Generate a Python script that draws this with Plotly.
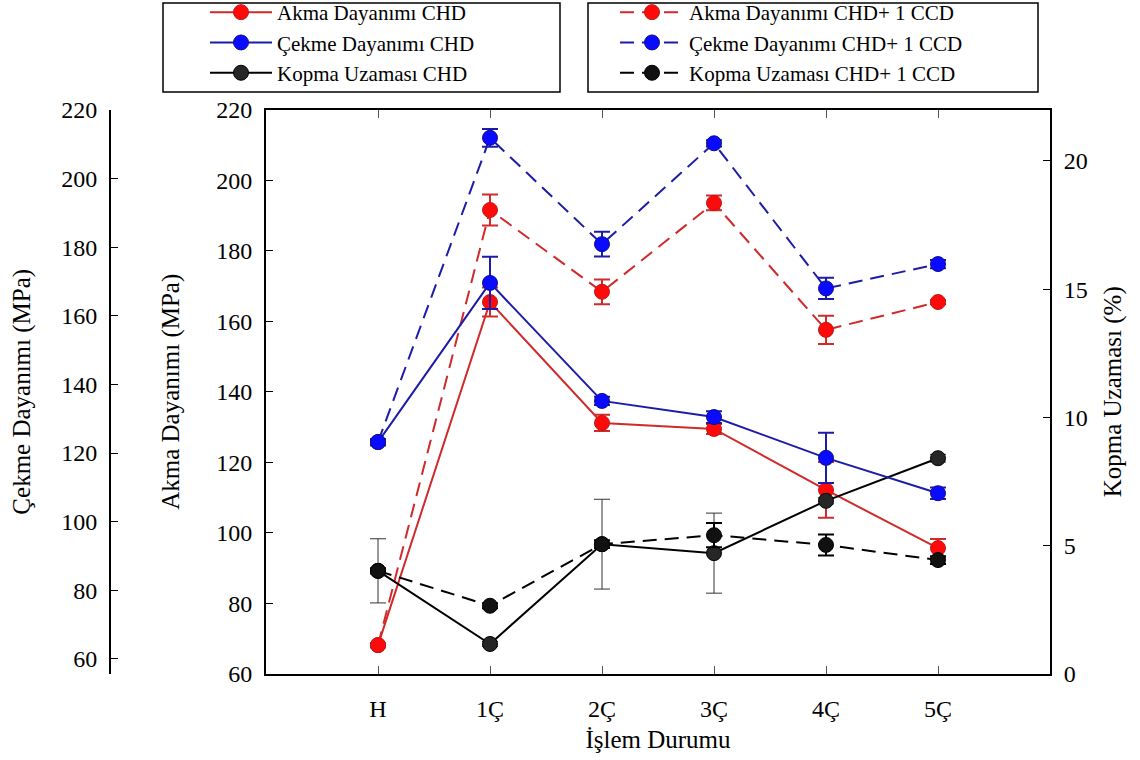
import plotly.graph_objects as go

categories = ['H', '1Ç', '2Ç', '3Ç', '4Ç', '5Ç']

# Akma Dayanımı (MPa) - middle left axis
akma_chd = [68.2, 165.5, 131.2, 129.5, 112.2, 95.7]
akma_chd_err = [0.6, 4.1, 2.3, 1.4, 7.9, 2.6]
akma_ccd = [68.2, 191.6, 168.4, 193.6, 157.6, 165.5]
akma_ccd_err = [0.6, 4.4, 3.5, 2.1, 4.0, 0.6]

# Çekme Dayanımı (MPa) - outer left axis
cekme_chd = [123.2, 169.6, 135.2, 130.5, 118.6, 108.3]
cekme_chd_err = [0.9, 7.6, 1.2, 1.7, 7.3, 1.7]
cekme_ccd = [123.2, 211.9, 180.9, 210.3, 168.0, 175.1]
cekme_ccd_err = [0.9, 2.6, 3.6, 0.9, 3.1, 1.2]

# Kopma Uzaması (%) - right axis
kopma_chd = [4.02, 1.17, 5.06, 4.71, 6.75, 8.41]
kopma_chd_err = [1.25, 0.1, 1.75, 1.56, 0.12, 0.15]
kopma_ccd = [4.02, 2.66, 5.06, 5.41, 5.03, 4.44]
kopma_ccd_err = [0.1, 0.1, 0.15, 0.47, 0.41, 0.15]

FONT = "Liberation Serif"
W, H = 1140, 760
ML, MR, MT, MB = 100, 60, 10, 60
PW, PH = W - ML - MR, H - MT - MB


def fx(px):
    return (px - ML) / PW


def fy(py):
    return (H - MB - py) / PH


L, R, T, B = 266, 1050, 109.5, 674

RED_LINE = "#d02a2a"
RED_MK = "#ff0a0a"
BLUE_LINE = "#1c1ca8"
BLUE_MK = "#0a0aff"
BLK_MK = "#262626"
DASH = "14px,8px"


def trace(name, y, err, yaxis, line_color, mk_color, mk_edge, err_color, err_th, dash, legend):
    return go.Scatter(
        x=categories, y=y, name=name, yaxis=yaxis, legend=legend,
        mode="lines+markers",
        line=dict(color=line_color, width=2, dash=dash),
        marker=dict(size=15, color=mk_color, line=dict(color=mk_edge, width=1)),
        error_y=dict(type="data", array=err, visible=True, color=err_color,
                     thickness=err_th, width=8),
    )


fig = go.Figure()
# CHD (solid)
fig.add_trace(trace("Akma Dayanımı CHD", akma_chd, akma_chd_err, "y",
                    RED_LINE, RED_MK, "#c01818", RED_LINE, 2, "solid", "legend"))
fig.add_trace(trace("Çekme Dayanımı CHD", cekme_chd, cekme_chd_err, "y3",
                    BLUE_LINE, BLUE_MK, "#10108a", BLUE_LINE, 2, "solid", "legend"))
fig.add_trace(trace("Kopma Uzaması CHD", kopma_chd, kopma_chd_err, "y2",
                    "#000000", BLK_MK, "#000000", "#333333", 1, "solid", "legend"))
# CHD + 1 CCD (dashed)
fig.add_trace(trace("Akma Dayanımı CHD+ 1 CCD", akma_ccd, akma_ccd_err, "y",
                    RED_LINE, RED_MK, "#c01818", RED_LINE, 2, DASH, "legend2"))
fig.add_trace(trace("Çekme Dayanımı CHD+ 1 CCD", cekme_ccd, cekme_ccd_err, "y3",
                    BLUE_LINE, BLUE_MK, "#10108a", BLUE_LINE, 2, DASH, "legend2"))
fig.add_trace(trace("Kopma Uzaması CHD+ 1 CCD", kopma_ccd, kopma_ccd_err, "y2",
                    "#000000", "#111111", "#000000", "#000000", 2, DASH, "legend2"))

tick_font = dict(family=FONT, size=24, color="#000000")
title_font = dict(family=FONT, size=25, color="#000000")
ydom = [fy(B), fy(T)]

yax_common = dict(
    showline=True, linecolor="#000", linewidth=2,
    ticks="inside", ticklen=7, tickwidth=1, tickcolor="#000",
    showgrid=False, zeroline=False, tickfont=tick_font,
    automargin=False, ticklabelstandoff=7,
)

fig.update_layout(
    width=W, height=H,
    margin=dict(l=ML, r=MR, t=MT, b=MB, autoexpand=False),
    paper_bgcolor="white", plot_bgcolor="white",
    font=dict(family=FONT, size=22, color="#000000"),
    xaxis=dict(
        domain=[fx(L), fx(R)], type="category", range=[-1, 6],
        showline=True, linecolor="#000", linewidth=2, mirror="ticks",
        ticks="inside", ticklen=8, tickwidth=1, tickcolor="#555",
        showgrid=False, zeroline=False, tickfont=tick_font,
        automargin=False, ticklabelstandoff=12,
        title=dict(text="İşlem Durumu", font=title_font, standoff=10),
    ),
    yaxis=dict(
        domain=ydom, range=[60, 220.1], dtick=20, tick0=60,
        title=dict(text="Akma Dayanımı (MPa)", font=title_font, standoff=29),
        **yax_common,
    ),
    yaxis3=dict(
        overlaying="y", side="left", anchor="free", position=fx(110),
        range=[55.6, 220.15], dtick=20, tick0=60,
        title=dict(text="Çekme Dayanımı (MPa)", font=title_font, standoff=22),
        **yax_common,
    ),
    yaxis2=dict(
        overlaying="y", side="right", anchor="x",
        range=[0, 22], dtick=5, tick0=0,
        title=dict(text="Kopma Uzaması (%)", font=title_font, standoff=17),
        **yax_common,
    ),
    legend=dict(
        x=fx(205), y=fy(-8), xanchor="left", yanchor="top",
        bgcolor="rgba(0,0,0,0)", borderwidth=0, itemwidth=62,
        font=dict(family=FONT, size=21, color="#000"), tracegroupgap=0,
    ),
    legend2=dict(
        x=fx(615), y=fy(-8), xanchor="left", yanchor="top",
        bgcolor="rgba(0,0,0,0)", borderwidth=0, itemwidth=64,
        font=dict(family=FONT, size=21, color="#000"), tracegroupgap=0,
    ),
    shapes=[
        dict(type="rect", xref="paper", yref="paper",
             x0=fx(163), x1=fx(560), y0=fy(92), y1=fy(3),
             line=dict(color="#000", width=1.5), fillcolor="rgba(0,0,0,0)"),
        dict(type="rect", xref="paper", yref="paper",
             x0=fx(588), x1=fx(1038), y0=fy(92), y1=fy(3),
             line=dict(color="#000", width=1.5), fillcolor="rgba(0,0,0,0)"),
    ],
)

fig.write_html("out.html", config={"displayModeBar": False},
               post_script="document.body.style.margin='0';")
